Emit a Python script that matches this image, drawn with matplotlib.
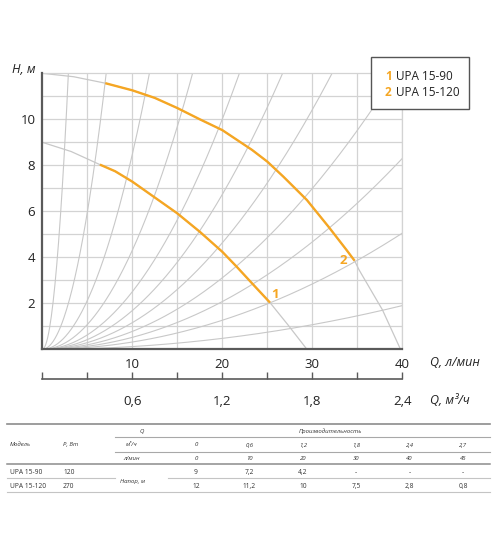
import numpy as np
import matplotlib.pyplot as plt
from matplotlib.patches import Rectangle

plt.rcParams['font.family'] = ['Open Sans', 'DejaVu Sans']

# pump curves (Q in l/min, H in m)
pump1_q = [0, 3.2, 6.4, 8.1, 10, 15, 17.5, 20, 21.6, 23.3, 25.3, 27.3, 29.4]
pump1_h = [9.0, 8.6, 8.03, 7.74, 7.29, 5.91, 5.11, 4.24, 3.59, 2.87, 2.03, 1.06, 0]
pump1_work = (6.4, 25.3)

pump2_q = [0, 3.5, 7.0, 10, 12.5, 15, 17.5, 20, 23.3, 25, 26.8, 29.4, 31.8, 33.8, 34.7, 35.2, 37.8, 39.8]
pump2_h = [12.0, 11.85, 11.57, 11.26, 10.93, 10.49, 10.0, 9.53, 8.67, 8.16, 7.50, 6.49, 5.33, 4.32, 3.85, 3.45, 1.71, 0]
pump2_work = (7.0, 34.7)

# system curves H = k*Q^2: where they leave the frame
sys_top_q = [2.9, 7.1, 11.9, 16.7, 21.9, 26.7, 32.2, 39.3]   # leave at H = 12
sys_right_h = [8.3, 5.05, 1.9]                               # leave at Q = 40

lpm_ticks = [10, 20, 30, 40]
m3h_ticks = [0, 0.3, 0.6, 0.9, 1.2, 1.5, 1.8, 2.1, 2.4]
m3h_labels = ['', '', '0,6', '', '1,2', '', '1,8', '', '2,4']
h_ticks = [2, 4, 6, 8, 10]

legend_names = ['UPA 15-90', 'UPA 15-120']

# table
tab_m3h = ['0', '0,6', '1,2', '1,8', '2,4', '2,7']
tab_lpm = ['0', '10', '20', '30', '40', '45']
tab_models = ['UPA 15-90', 'UPA 15-120']
tab_power = ['120', '270']
tab_head = [['9', '7,2', '4,2', '-', '-', '-'],
            ['12', '11,2', '10', '7,5', '2,8', '0,8']]

ORANGE = '#F5A623'
GRID = '#d3d3d3'
AXC = '#5a5a5a'
TXT = '#222222'

W, H = 500, 538
fig = plt.figure(figsize=(5, 5.38), dpi=100)


def px_rect(x0, y0, x1, y1):
    return [x0 / W, 1 - y1 / H, (x1 - x0) / W, (y1 - y0) / H]


ax = fig.add_axes(px_rect(42.3, 73.3, 402.3, 349.3))
ax.set_xlim(0, 40)
ax.set_ylim(0, 12)
ax.set_xticks(lpm_ticks)
ax.set_xticks([5, 15, 25, 35], minor=True)
ax.set_yticks(h_ticks)
ax.set_yticks([1, 3, 5, 7, 9, 11], minor=True)
ax.grid(which='both', color=GRID, lw=0.9)
ax.set_axisbelow(True)
ax.tick_params(which='both', length=0, labelcolor=TXT)
ax.tick_params(axis='x', labelsize=9.5, pad=6.3)
ax.tick_params(axis='y', labelsize=9.5, pad=5)
for s in ['top', 'right']:
    ax.spines[s].set_color(GRID)
    ax.spines[s].set_linewidth(0.9)
for s in ['left', 'bottom']:
    ax.spines[s].set_color(AXC)
    ax.spines[s].set_linewidth(1.6)
    ax.spines[s].set_zorder(6)

# system curves
q = np.linspace(0, 40, 400)
for qt in sys_top_q:
    ax.plot(q, 12 / qt ** 2 * q ** 2, color='#c8c8c8', lw=0.8, zorder=1)
for hr in sys_right_h:
    ax.plot(q, hr / 40 ** 2 * q ** 2, color='#c8c8c8', lw=0.8, zorder=1)

# pump curves
for pq, ph, (a, b) in [(pump1_q, pump1_h, pump1_work), (pump2_q, pump2_h, pump2_work)]:
    pq = np.array(pq)
    ph = np.array(ph)
    ax.plot(pq, ph, color='#c8c8c8', lw=0.9, zorder=2, solid_joinstyle='round')
    m = (pq >= a) & (pq <= b)
    ax.plot(pq[m], ph[m], color=ORANGE, lw=1.7, zorder=4,
            solid_capstyle='butt', solid_joinstyle='round')

ax.text(25.86, 2.4, '1', color=ORANGE, fontsize=9.5, fontweight='bold', ha='center', va='center')
ax.text(33.44, 3.88, '2', color=ORANGE, fontsize=9.5, fontweight='bold', ha='center', va='center')

# second scale in m3/h
ax2 = fig.add_axes(px_rect(42.3, 360, 402.3, 379.3))
ax2.set_xlim(0, 2.4)
ax2.set_facecolor('none')
ax2.set_yticks([])
for s in ['top', 'right', 'left']:
    ax2.spines[s].set_visible(False)
ax2.spines['bottom'].set_color(AXC)
ax2.spines['bottom'].set_linewidth(1.2)
ax2.set_xticks(m3h_ticks)
ax2.set_xticklabels(m3h_labels)
ax2.tick_params(axis='x', direction='in', length=4.8, width=1, color=AXC,
                labelsize=9.5, labelcolor=TXT, pad=11.5)

# overlay in pixel coords for legend, units and table
ov = fig.add_axes([0, 0, 1, 1], zorder=5)
ov.set_xlim(0, W)
ov.set_ylim(H, 0)
ov.axis('off')

ov.text(35, 69.3, 'H, м', style='italic', fontsize=9, color=TXT, ha='right', va='center')
ov.text(430, 362.7, 'Q, л/мин', style='italic', fontsize=9, color=TXT, ha='left', va='center')
ov.text(430, 401, 'Q, м³/ч', style='italic', fontsize=9, color=TXT, ha='left', va='center')

ov.add_patch(Rectangle((370.7, 57.3), 98.6, 52, fc='white', ec='#555555', lw=1))
for i, name in enumerate(legend_names):
    y = 76.7 + i * 15.6
    ov.text(385, y, str(i + 1), color=ORANGE, fontsize=8.5, fontweight='bold', ha='left', va='center')
    ov.text(396, y, name, color=TXT, fontsize=8.5, ha='left', va='center')

# table
col_x = [196, 249.4, 302.8, 356.2, 409.6, 463]
fs_h = 4.3
fs_d = 4.8
tc = '#333333'
ov.plot([7, 490], [424, 424], color='#8c8c8c', lw=1.2)
ov.plot([115, 490], [437.3, 437.3], color='#a8a8a8', lw=0.8)
ov.plot([115, 490], [451.7, 451.7], color='#a8a8a8', lw=0.8)
ov.plot([7, 490], [464.3, 464.3], color='#8c8c8c', lw=1.1)
ov.plot([7, 115], [478.3, 478.3], color='#c4c4c4', lw=0.8)
ov.plot([168, 490], [478.3, 478.3], color='#c4c4c4', lw=0.8)
ov.plot([7, 490], [492.3, 492.3], color='#c4c4c4', lw=0.8)

ov.text(10, 444.3, 'Модель', style='italic', fontsize=fs_h, color=tc, va='center')
ov.text(63, 444.3, 'Р, Вт', style='italic', fontsize=fs_h, color=tc, va='center')
ov.text(141.7, 431, 'Q', style='italic', fontsize=fs_h, color=tc, ha='center', va='center')
ov.text(330, 431, 'Производительность', style='italic', fontsize=fs_h, color=tc, ha='center', va='center')
ov.text(132, 445, 'м³/ч', style='italic', fontsize=fs_h, color=tc, ha='center', va='center')
ov.text(132, 458.3, 'л/мин', style='italic', fontsize=fs_h, color=tc, ha='center', va='center')
ov.text(132, 481.7, 'Напор, м', style='italic', fontsize=fs_h, color=tc, ha='center', va='center')
for x, a, b in zip(col_x, tab_m3h, tab_lpm):
    ov.text(x, 445, a, style='italic', fontsize=fs_h, color=tc, ha='center', va='center')
    ov.text(x, 458.3, b, style='italic', fontsize=fs_h, color=tc, ha='center', va='center')
for r, y in enumerate([472.3, 486.7]):
    ov.text(10, y, tab_models[r], fontsize=fs_d, color=tc, va='center')
    ov.text(63, y, tab_power[r], fontsize=fs_d, color=tc, va='center')
    for x, v in zip(col_x, tab_head[r]):
        ov.text(x, y, v, fontsize=fs_d, color=tc, ha='center', va='center')

fig.savefig('out.png', dpi=100, facecolor='white')
